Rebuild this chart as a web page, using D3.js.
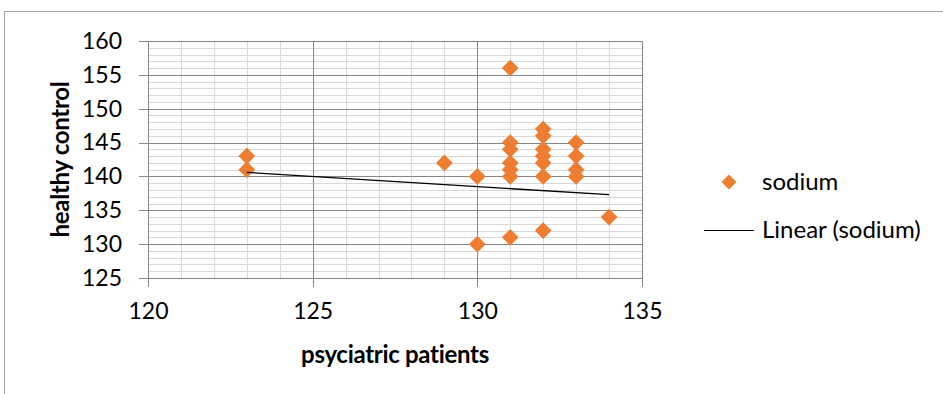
<!DOCTYPE html>
<html>
<head>
<meta charset="utf-8">
<script src="https://cdn.jsdelivr.net/npm/d3@7"></script>
<style>
  body { margin: 0; background: #fff; }
  svg { display: block; font-family: Lato, "Open Sans", sans-serif; }
</style>
</head>
<body>
<div id="chart"></div>
<script>
// Data
const patients = [123, 123, 129, 130, 130, 131, 131, 131, 131, 131, 131, 131,
                  132, 132, 132, 132, 132, 132, 132, 133, 133, 133, 133, 134];
const controls = [143, 141, 142, 140, 130, 156, 145, 144, 142, 141, 140, 131,
                  147, 146, 144, 143, 142, 140, 132, 145, 143, 141, 140, 134];
// Linear trendline endpoints as drawn
const trendX = [123, 134];
const trendY = [140.6, 137.3];

const xTicks = [120, 125, 130, 135];
const yTicks = [125, 130, 135, 140, 145, 150, 155, 160];
const xMinor = d3.range(120, 136, 1);
const yMinor = d3.range(125, 161, 1);

const width = 943, height = 394;
const plot = { left: 148, right: 642, top: 41, bottom: 278 };

const orange = "#ED7D31";
const majorGrid = "#878787";
const minorGrid = "#D9D9D9";

const svg = d3.select("#chart")
    .append("svg")
    .attr("width", width)
    .attr("height", height);

// Outer chart border (extends past the window)
svg.append("rect")
    .attr("x", 4.5).attr("y", 11.5)
    .attr("width", 1000).attr("height", 500)
    .attr("fill", "none")
    .attr("stroke", "#A6A6A6");

const x = d3.scaleLinear().domain([120, 135]).range([plot.left, plot.right]);
const y = d3.scaleLinear().domain([125, 160]).range([plot.bottom, plot.top]);

// Minor gridlines
const grid = svg.append("g").attr("shape-rendering", "crispEdges");
grid.selectAll(".vminor")
    .data(xMinor)
    .join("line")
    .attr("x1", d => Math.round(x(d)) + 0.5).attr("x2", d => Math.round(x(d)) + 0.5)
    .attr("y1", plot.top).attr("y2", plot.bottom)
    .attr("stroke", minorGrid).attr("stroke-width", 1.5);
grid.selectAll(".hminor")
    .data(yMinor)
    .join("line")
    .attr("y1", d => Math.round(y(d)) + 0.5).attr("y2", d => Math.round(y(d)) + 0.5)
    .attr("x1", plot.left).attr("x2", plot.right)
    .attr("stroke", minorGrid).attr("stroke-width", 1.5);

// Major gridlines
grid.selectAll(".vmajor")
    .data(xTicks)
    .join("line")
    .attr("x1", d => Math.round(x(d)) + 0.5).attr("x2", d => Math.round(x(d)) + 0.5)
    .attr("y1", plot.top).attr("y2", plot.bottom)
    .attr("stroke", majorGrid);
grid.selectAll(".hmajor")
    .data(yTicks)
    .join("line")
    .attr("y1", d => Math.round(y(d)) + 0.5).attr("y2", d => Math.round(y(d)) + 0.5)
    .attr("x1", plot.left).attr("x2", plot.right)
    .attr("stroke", majorGrid);

// Axes
const yAxis = svg.append("g")
    .attr("transform", `translate(${plot.left},0)`)
    .call(d3.axisLeft(y).tickValues(yTicks).tickSize(9).tickPadding(17).tickSizeOuter(0));
const xAxis = svg.append("g")
    .attr("transform", `translate(0,${plot.bottom})`)
    .call(d3.axisBottom(x).tickValues(xTicks).tickSize(9).tickPadding(16).tickSizeOuter(0));

[xAxis, yAxis].forEach(a => {
    a.attr("font-family", null).attr("font-size", null);
    a.selectAll("path, line").attr("stroke", majorGrid).attr("shape-rendering", "crispEdges");
    a.selectAll("text").attr("fill", "#000").style("font-size", "23px");
});

// Axis titles
svg.append("text")
    .attr("x", (plot.left + plot.right) / 2)
    .attr("y", 355)
    .attr("dy", "0.35em")
    .attr("text-anchor", "middle")
    .style("font-size", "24px")
    .style("font-weight", "bold")
    .style("letter-spacing", "-0.3px")
    .text("psyciatric patients");

svg.append("text")
    .attr("transform", `translate(61,${(plot.top + plot.bottom) / 2}) rotate(-90)`)
    .attr("dy", "0.35em")
    .attr("text-anchor", "middle")
    .style("font-size", "24px")
    .style("font-weight", "bold")
    .style("letter-spacing", "-0.3px")
    .text("healthy control");

// Scatter points
const diamond = d3.symbol().type(d3.symbolDiamond2).size(180);
svg.selectAll(".pt")
    .data(patients.map((p, i) => ({ x: p, y: controls[i] })))
    .join("path")
    .attr("class", "pt")
    .attr("d", diamond)
    .attr("transform", d => `translate(${x(d.x)},${y(d.y)})`)
    .attr("fill", orange);

// Trendline
svg.append("line")
    .attr("x1", x(trendX[0])).attr("y1", y(trendY[0]))
    .attr("x2", x(trendX[1])).attr("y2", y(trendY[1]))
    .attr("stroke", "#000")
    .attr("stroke-width", 1.3);

// Legend
const legend = svg.append("g");
legend.append("path")
    .attr("d", d3.symbol().type(d3.symbolDiamond2).size(140))
    .attr("transform", "translate(729,182)")
    .attr("fill", orange);
legend.append("text")
    .attr("x", 762).attr("y", 182).attr("dy", "0.35em")
    .style("font-size", "24px")
    .text("sodium");
legend.append("line")
    .attr("x1", 704).attr("x2", 754)
    .attr("y1", 230.5).attr("y2", 230.5)
    .attr("stroke", "#000")
    .attr("stroke-width", 1.2);
legend.append("text")
    .attr("x", 762).attr("y", 230).attr("dy", "0.35em")
    .style("font-size", "24px")
    .text("Linear (sodium)");
</script>
</body>
</html>
